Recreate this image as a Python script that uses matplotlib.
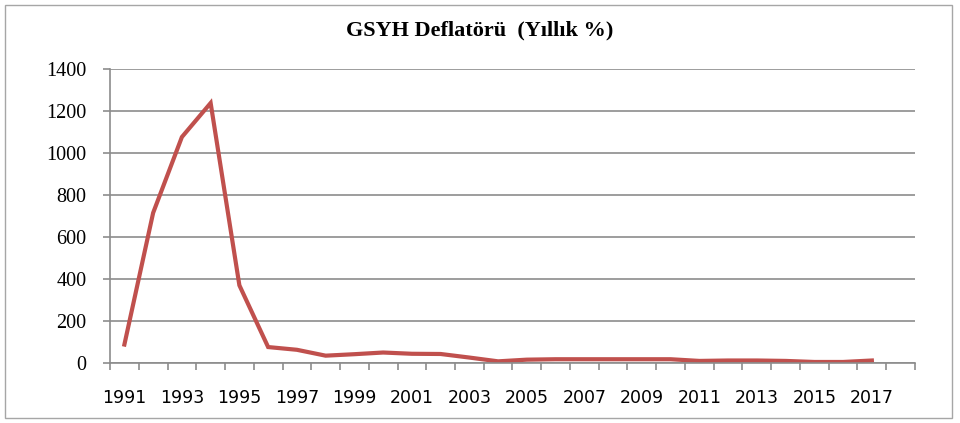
import numpy as np
import matplotlib.pyplot as plt
from matplotlib.patches import Rectangle

# === Veri ===
years = list(range(1991, 2019))
deflator = [88, 715, 1076, 1238, 370, 76, 63, 35, 42, 50, 44, 43, 26, 8, 16, 18, 18, 18, 18, 18,
            10, 12, 12, 10, 5, 5, 12, None]
title = "GSYH Deflatörü  (Yıllık %)"
line_color = "#C0504D"
grid_color = "#8C8C8C"

fig = plt.figure(figsize=(9.6, 4.23), dpi=100)
ax = fig.add_axes([0.1146, 0.1418, 0.8385, 0.6951])

x = np.arange(len(years))
y = np.array([np.nan if v is None else v for v in deflator], dtype=float)
ax.plot(x, y, color=line_color, linewidth=3, solid_joinstyle="miter")

# === Eksenler ===
ax.set_xlim(-0.5, len(years) - 0.5)
ax.set_ylim(0, 1400)
ax.set_yticks(np.arange(0, 1401, 200))
ax.set_yticklabels([str(v) for v in range(0, 1401, 200)], fontsize=14.5, family="Liberation Serif")
ax.yaxis.grid(True, color=grid_color, linewidth=1.2)
ax.set_axisbelow(True)

ax.set_xticks(np.arange(-0.5, len(years), 1))
ax.set_xticklabels([])
ax.set_xticks(x[::2], minor=True)
ax.set_xticklabels([str(yr) for yr in years[::2]], minor=True, fontsize=12.5, family="DejaVu Sans")
ax.tick_params(axis="x", which="major", length=5, color=grid_color, width=1.2, direction="out")
ax.tick_params(axis="x", which="minor", length=0, pad=19)
ax.tick_params(axis="y", length=5, color=grid_color, width=1.2, pad=12)

for s in ["top", "right"]:
    ax.spines[s].set_visible(False)
for s in ["left", "bottom"]:
    ax.spines[s].set_color(grid_color)
    ax.spines[s].set_linewidth(1.2)

fig.text(0.5, 0.927, title, ha="center", va="center", fontsize=16, fontweight="bold",
         family="Liberation Serif")

# çerçeve
fig.patches.append(Rectangle((5 / 960, 5 / 423), 947 / 960, 413 / 423, transform=fig.transFigure,
                             fill=False, edgecolor="#A6A6A6", linewidth=1))

plt.savefig("out.png", dpi=100)
